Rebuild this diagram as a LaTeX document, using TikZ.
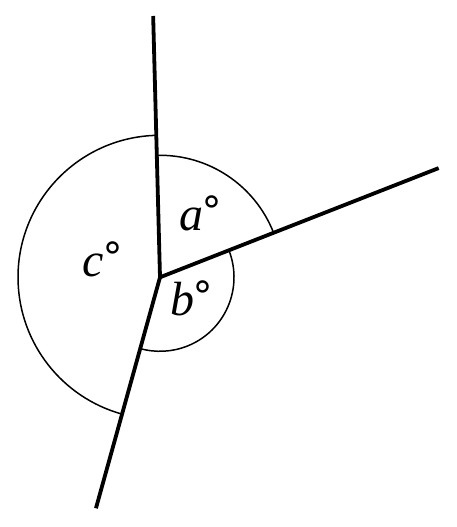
\documentclass[tikz,border=0pt]{standalone}
\usepackage{fontspec}
\setmainfont{Liberation Serif}
\newfontfamily\ringfont{DejaVu Sans}
\usepackage{tikz}
\newcommand{\degmark}{\kern-4pt\raisebox{0.34em}{\upshape\ringfont\fontsize{40}{40}\selectfont ∘}}

\begin{document}
\begin{tikzpicture}[x=1pt,y=1pt,
	ray/.style={line width=3.8pt},
	anglearc/.style={line width=1.5pt},
	anglelabel/.style={font=\fontsize{48}{48}\selectfont\itshape,inner sep=0pt}]
	\useasboundingbox (0,0) rectangle (456,527);
	\coordinate (O) at (160,249.7);
	\coordinate (top) at ([shift={(91.5:261.4)}]O);
	\coordinate (right) at ([shift={(21.4:299.3)}]O);
	\coordinate (bottom) at ([shift={(254.5:239.7)}]O);
	% angle arcs
	\draw[anglearc] ([shift={(21.4:122)}]O) arc[start angle=21.4,end angle=91.5,radius=122];
	\draw[anglearc] ([shift={(21.4:74)}]O) arc[start angle=21.4,end angle=-105.5,radius=74];
	\draw[anglearc] ([shift={(91.5:142)}]O) arc[start angle=91.5,end angle=254.5,radius=142];
	% rays
	\draw[ray] (top) -- (O) -- (right);
	\draw[ray] (O) -- (bottom);
	% labels
	\node[anglelabel] (a) at ([shift={(42,64)}]O) {a\degmark};
	\node[anglelabel] (b) at ([shift={(33,-21)}]O) {b\degmark};
	\node[anglelabel] (c) at ([shift={(-56,18)}]O) {c\degmark};
\end{tikzpicture}
\end{document}
